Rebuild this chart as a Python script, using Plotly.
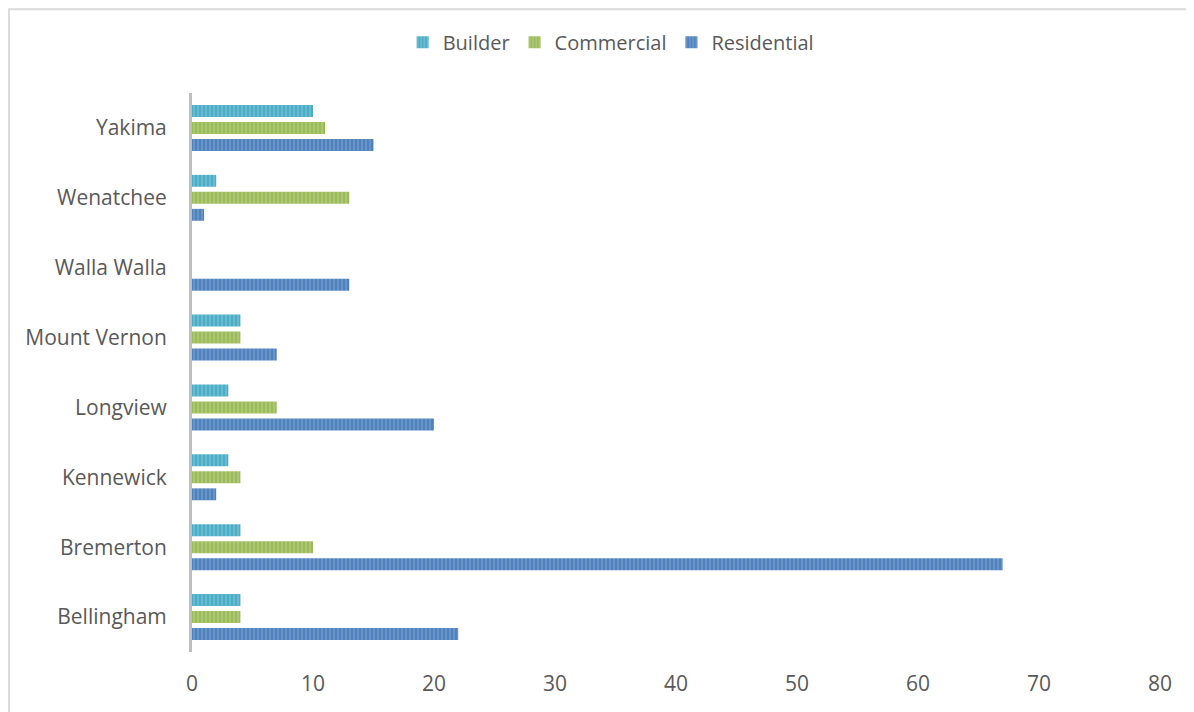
import plotly.graph_objects as go

cities = ["Bellingham", "Bremerton", "Kennewick", "Longview", "Mount Vernon",
          "Walla Walla", "Wenatchee", "Yakima"]
builder = [4, 4, 3, 3, 4, 0, 2, 10]
commercial = [4, 10, 4, 7, 4, 0, 13, 11]
residential = [22, 67, 2, 20, 7, 13, 1, 15]
x_ticks = [0, 10, 20, 30, 40, 50, 60, 70, 80]

series = [
    ("Residential", residential, "#4F81BD", "#9DB9DE", 3),
    ("Commercial", commercial, "#9BBB59", "#CBDDAA", 2),
    ("Builder", builder, "#4BACC6", "#A3D6E4", 1),
]

fig = go.Figure()
for name, vals, col, light, rank in series:
    fig.add_trace(go.Bar(
        y=cities, x=vals, name=name, orientation="h",
        legendrank=rank,
        marker=dict(color=col, line=dict(width=0),
                    pattern=dict(shape="|", fgcolor=light, size=4, solidity=0.35)),
    ))

fig.update_layout(
    width=1194, height=712,
    paper_bgcolor="white", plot_bgcolor="white",
    font=dict(family="Open Sans, Liberation Sans, sans-serif", color="#595959", size=21),
    barmode="group", bargap=0.27, bargroupgap=0.3,
    margin=dict(l=184, r=42, t=85, b=68, autoexpand=False),
    legend=dict(orientation="h", x=0.433, xanchor="center", y=0.952, yanchor="middle",
                yref="container", font=dict(size=20), itemwidth=30,
                traceorder="normal"),
    showlegend=True,
    xaxis=dict(range=[0, 80], tickvals=x_ticks, showgrid=False, zeroline=False,
               showline=False, ticks="", ticklabelstandoff=17, automargin=False,
               tickfont=dict(size=21)),
    yaxis=dict(showgrid=False, zeroline=False, showline=True, linecolor="#BFBFBF",
               linewidth=3, ticks="", ticklabelstandoff=18, automargin=False,
               tickfont=dict(size=21)),
    shapes=[dict(type="rect", xref="paper", yref="paper",
                 x0=-0.189, x1=1.1, y0=-0.2, y1=1.150,
                 line=dict(color="#D9D9D9", width=2), fillcolor="rgba(0,0,0,0)", layer="below")],
)
fig.write_html("out.html")
